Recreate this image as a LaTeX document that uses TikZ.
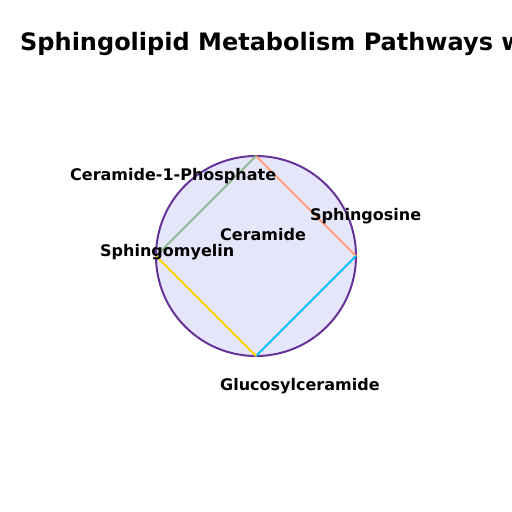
\documentclass[tikz,border=0pt]{standalone}
\usepackage{fontspec}
\setmainfont{DejaVu Sans}
\usepackage{xcolor}
\usepackage{tikz}
\definecolor{lavender}{HTML}{E6E6FA}
\definecolor{rebecca}{HTML}{663399}
\definecolor{salmonlt}{HTML}{FFA07A}
\definecolor{skyblue}{HTML}{00BFFF}
\definecolor{goldy}{HTML}{FFD700}
\definecolor{seagreen}{HTML}{8FBC8F}
\tikzset{lbl/.style={anchor=base west, inner sep=0pt, font=\fontsize{16}{19}\selectfont\bfseries}}

\begin{document}
\begin{tikzpicture}[x=1pt, y=-1pt]
            \clip (0,0) rectangle (512,512);
            \fill[white] (0,0) rectangle (512,512);

            \node[anchor=base west, inner sep=0pt, font=\fontsize{24}{29}\selectfont\bfseries] (title) at (20,50) {Sphingolipid Metabolism Pathways w};

            \draw[fill=lavender, draw=rebecca, line width=2pt] (256,256) circle [radius=100];

            \coordinate (top) at (256,156);
            \coordinate (right) at (356,256);
            \coordinate (bottom) at (256,356);
            \coordinate (left) at (156,256);

            \draw[salmonlt, line width=1.8pt] (top) -- (right);
            \draw[skyblue, line width=1.8pt] (right) -- (bottom);
            \draw[goldy, line width=1.8pt] (bottom) -- (left);
            \draw[seagreen, line width=1.8pt] (left) -- (top);

            \node[lbl] (cer) at (220,240) {Ceramide};
            \node[lbl] (sph) at (310,220) {Sphingosine};
            \node[lbl] (sm) at (100,256) {Sphingomyelin};
            \node[lbl] (c1p) at (70,180) {Ceramide-1-Phosphate};
            \node[lbl] (gluc) at (220,390) {Glucosylceramide};
        \end{tikzpicture}
\end{document}
